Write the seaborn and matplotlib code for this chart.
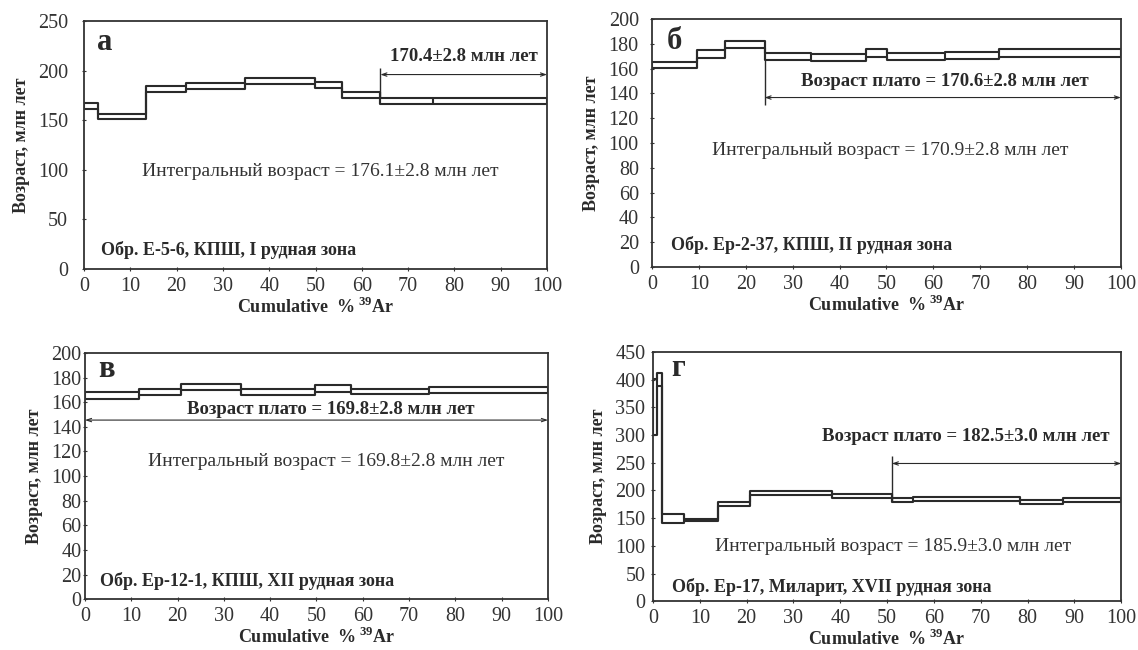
import numpy as np
import pandas as pd
import matplotlib.pyplot as plt
import seaborn as sns

# данные ступеней: границы по Cumulative %39Ar, нижний и верхний край возраста
edges_a = [0, 3.1, 13.4, 22.1, 34.7, 49.9, 55.7, 64, 75.3, 100]
lo_a = [161.6, 151.4, 178.2, 181, 186.4, 182.7, 172.8, 166.5, 166.5]
hi_a = [167.7, 156.5, 184.4, 187, 192.9, 188.8, 178.6, 172.6, 172.8]

edges_b = [0, 9.7, 15.5, 24, 34, 45.7, 50.2, 62.5, 73.9, 100]
lo_b = [160.7, 168.8, 176.3, 166.9, 166.4, 169.6, 166.9, 167.7, 169.6]
hi_b = [165.5, 174.7, 182.5, 172.8, 171.7, 175.5, 172.3, 173.6, 175.5]

edges_v = [0, 11.7, 20.8, 33.7, 49.6, 57.5, 74.4, 100]
lo_v = [163, 165.6, 169.7, 166, 168.3, 166.7, 167.2]
hi_v = [168.6, 171, 175, 171, 174, 171, 172]

edges_g = [0, 0.8, 2.0, 6.6, 13.8, 20.7, 38.2, 51, 55.6, 78.4, 87.5, 100]
lo_g = [300, 388, 142, 144, 172, 191, 187, 179.6, 180.6, 174.7, 178.8]
hi_g = [401, 411.5, 157, 149, 179, 198.6, 194, 186.5, 187.7, 182, 186.5]

# плато: начало, конец, уровень стрелки, вертикаль (низ, верх)
plateau_a = (64, 100, 196, (172.6, 203))
plateau_b = (24, 100, 136.7, (130.5, 166.9))
plateau_v = (0, 100, 145.5, None)
plateau_g = (51, 100, 248.7, (179.6, 263))

letters = ['а', 'б', 'в', 'г']
plateau_txt = ['170.4±2.8 млн лет',
               'Возраст плато = 170.6±2.8 млн лет',
               'Возраст плато = 169.8±2.8 млн лет',
               'Возраст плато = 182.5±3.0 млн лет']
integral_txt = ['Интегральный возраст = 176.1±2.8 млн лет',
                'Интегральный возраст = 170.9±2.8 млн лет',
                'Интегральный возраст = 169.8±2.8 млн лет',
                'Интегральный возраст = 185.9±3.0 млн лет']
sample_txt = ['Обр. Е-5-6, КПШ, I рудная зона',
              'Обр. Ер-2-37, КПШ, II рудная зона',
              'Обр. Ер-12-1, КПШ, XII рудная зона',
              'Обр. Ер-17, Миларит, XVII рудная зона']

sns.set_style('ticks')
plt.rcParams['font.family'] = ['Liberation Serif', 'DejaVu Serif']
plt.rcParams['mathtext.fontset'] = 'custom'
plt.rcParams['mathtext.rm'] = 'Liberation Serif'
plt.rcParams['mathtext.bf'] = 'Liberation Serif:bold'

INK = '#2a2a2a'

fig = plt.figure(figsize=(11.38, 6.5), dpi=100)
axes_pos = [[0.0738, 0.5862, 0.4069, 0.3815],
            [0.5729, 0.5892, 0.4121, 0.3815],
            [0.0747, 0.0780, 0.4068, 0.3790],
            [0.5738, 0.0750, 0.4115, 0.3835]]

panels = [
    (edges_a, lo_a, hi_a, plateau_a, 250, 50, (4.5, 228), (82, 214.5), (51, 98), (3.7, 19), 10),
    (edges_b, lo_b, hi_b, plateau_b, 200, 20, (4.8, 182), (62.5, 150), (50.7, 93.7), (4, 18), 8),
    (edges_v, lo_v, hi_v, plateau_v, 200, 20, (4.6, 186.6), (53, 154), (52, 112), (3.3, 14.8), 1),
    (edges_g, lo_g, hi_g, plateau_g, 450, 50, (5.4, 420), (66.7, 297.8), (51.3, 99), (4, 26.6), 4),
]

for i, (edges, lo, hi, plat, ymax, ystep, let_xy, pl_xy, int_xy, smp_xy, ypad) in enumerate(panels):
    ax = fig.add_axes(axes_pos[i])

    # ступенчатые линии верхнего и нижнего края
    step_df = pd.DataFrame({
        'x': list(edges) * 2,
        'age': list(hi) + [hi[-1]] + list(lo) + [lo[-1]],
        'edge': ['hi'] * len(edges) + ['lo'] * len(edges),
    })
    sns.lineplot(data=step_df, x='x', y='age', units='edge', estimator=None,
                 drawstyle='steps-post', color=INK, lw=1.5, ax=ax, legend=False)

    # вертикальные стенки прямоугольников
    for j, xe in enumerate(edges):
        prev = max(j - 1, 0)
        nxt = min(j, len(lo) - 1)
        ax.vlines(xe, min(lo[prev], lo[nxt]), max(hi[prev], hi[nxt]),
                  color=INK, lw=1.5)

    # стрелка плато
    x0, x1, yarr, vline = plat
    ax.annotate('', xy=(x1, yarr), xytext=(x0, yarr),
                arrowprops=dict(arrowstyle='<->,head_length=0.35,head_width=0.12',
                                color=INK, lw=0.8, shrinkA=0, shrinkB=0))
    if vline is not None:
        ax.vlines(x0, vline[0], vline[1], color=INK, lw=1.0)

    ax.text(*let_xy, letters[i], fontsize=22, fontweight='bold', color=INK,
            ha='center', va='center')
    ax.text(*pl_xy, plateau_txt[i], fontsize=13.5, fontweight='bold', color=INK,
            ha='center', va='center')
    ax.text(*int_xy, integral_txt[i], fontsize=14, color='#333333',
            ha='center', va='center')
    ax.text(*smp_xy, sample_txt[i], fontsize=13, fontweight='bold', color=INK,
            ha='left', va='center')

    ax.set_xlim(0, 100)
    ax.set_ylim(0, ymax)
    ax.set_xticks(np.arange(0, 101, 10))
    ax.set_yticks(np.arange(0, ymax + 1, ystep))
    ax.tick_params(axis='x', direction='inout', length=3, width=0.8,
                   labelsize=14.5, pad=4, colors='#333333')
    ax.tick_params(axis='y', direction='inout', length=3, width=0.8,
                   labelsize=14.5, pad=ypad, colors='#333333')
    for sp in ax.spines.values():
        sp.set_visible(True)
        sp.set_color('#333333')
        sp.set_linewidth(1.3)

    ax.set_xlabel('Cumulative  % $^{\\mathbf{39}}$Ar', fontsize=13,
                  fontweight='bold', color=INK, labelpad=1)
    ax.set_ylabel('Возраст, млн лет', fontsize=13, fontweight='bold',
                  color=INK, labelpad=6)

fig.savefig('out.png', dpi=100)
